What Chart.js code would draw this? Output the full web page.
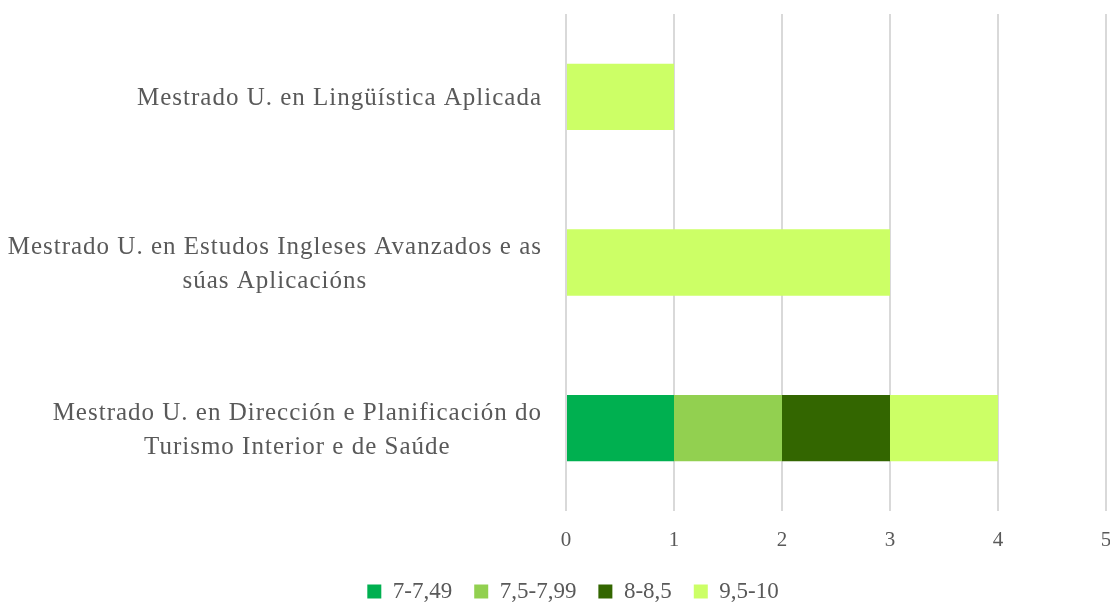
<!DOCTYPE html>
<html>
<head>
<meta charset="utf-8">
<script src="https://cdn.jsdelivr.net/npm/chart.js@4"></script>
<style>
  html, body { margin: 0; padding: 0; background: #fff; overflow: hidden; }
  canvas { display: block; }
</style>
</head>
<body>
<canvas id="notas-chart" width="1120" height="613"></canvas>
<script>
// Masters, top to bottom, each split into lines for the axis
let mestrados = [
  ['Mestrado U. en Lingüística Aplicada'],
  ['Mestrado U. en Estudos Ingleses Avanzados e as', 'súas Aplicacións'],
  ['Mestrado U. en Dirección e Planificación do', 'Turismo Interior e de Saúde']
]

// Number of students in each grade band
let notas7 = [0, 0, 1]
let notas75 = [0, 0, 1]
let notas8 = [0, 0, 1]
let notas95 = [1, 3, 1]

let bandas = ['7-7,49', '7,5-7,99', '8-8,5', '9,5-10']
let cores = ['#00B050', '#92D050', '#336600', '#CCFF66']

let fonte = '"Liberation Serif", serif'
let gris = '#595959'

// Draw the category labels: each block right-aligned, its lines centred
let etiquetasY = {
  id: 'etiquetasY',
  afterDraw(chart) {
    let ctx = chart.ctx
    let scale = chart.scales.y
    ctx.save()
    ctx.font = '25px ' + fonte
    ctx.letterSpacing = '1px'
    ctx.fillStyle = gris
    ctx.textAlign = 'center'
    ctx.textBaseline = 'middle'
    mestrados.forEach(function(linhas, i) {
      let ancho = Math.max(...linhas.map(l => ctx.measureText(l).width))
      let cx = 542 - ancho / 2
      let cy = scale.getPixelForTick(i) + 2
      linhas.forEach(function(l, j) {
        ctx.fillText(l, cx, cy + (j - (linhas.length - 1) / 2) * 34)
      })
    })
    ctx.restore()
  }
}

let series = [notas7, notas75, notas8, notas95]

let ctx = document.querySelector('#notas-chart').getContext('2d')

let notasChart = new Chart(ctx, {
  type: 'bar',
  data: {
    labels: mestrados,
    datasets: series.map(function(d, i) {
      return {
        label: bandas[i],
        data: d,
        backgroundColor: cores[i],
        barPercentage: 0.4,
        categoryPercentage: 1
      }
    })
  },
  options: {
    indexAxis: 'y',
    responsive: false,
    animation: false,
    layout: { padding: { top: 14, right: 14, left: 40, bottom: 0 } },
    scales: {
      x: {
        stacked: true,
        min: 0,
        max: 5,
        ticks: { stepSize: 1, color: gris, font: { family: fonte, size: 21 }, padding: 17 },
        grid: { color: '#d9d9d9', lineWidth: 2, drawTicks: false },
        border: { display: false },
        afterFit: function(scale) {
          scale.height = 47
          scale.paddingLeft = 0
          scale.paddingRight = 0
        }
      },
      y: {
        stacked: true,
        grid: { display: false },
        border: { display: false },
        ticks: { color: 'rgba(0,0,0,0)', font: { family: fonte, size: 1 } },
        afterFit: function(scale) { scale.width = 526 }
      }
    },
    plugins: {
      legend: {
        position: 'bottom',
        labels: {
          color: gris,
          font: { family: fonte, size: 23 },
          boxWidth: 14,
          boxHeight: 14,
          padding: 22
        }
      },
      tooltip: { enabled: false }
    }
  },
  plugins: [etiquetasY]
})
</script>
</body>
</html>
